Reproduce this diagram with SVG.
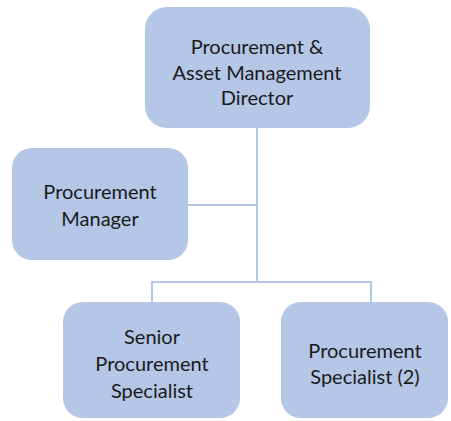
<svg xmlns="http://www.w3.org/2000/svg" width="451" height="421" viewBox="0 0 451 421">
<style>
.box{fill:#b4c7e7;}
.t{font-family:Lato,"Liberation Sans",sans-serif;font-size:20px;fill:#1a1a1a;text-anchor:middle;}
.c{stroke:#b4c7e7;stroke-width:2;fill:none;}
</style>
<rect width="451" height="421" fill="#ffffff"/>
<g id="connectors">
<path class="c" d="M257,128 V282"/>
<path class="c" d="M188,205 H257"/>
<path class="c" d="M152,302 V282 H371 V302"/>
</g>
<g id="director">
<rect class="box" x="145" y="7" width="225" height="121" rx="22"/>
<text class="t" x="257" y="54">Procurement &amp;</text>
<text class="t" x="257" y="80">Asset Management</text>
<text class="t" x="257" y="105">Director</text>
</g>
<g id="manager">
<rect class="box" x="12" y="148" width="176" height="112" rx="20"/>
<text class="t" x="100" y="199">Procurement</text>
<text class="t" x="100" y="226">Manager</text>
</g>
<g id="senior">
<rect class="box" x="63" y="302" width="177" height="116" rx="20"/>
<text class="t" x="152" y="344">Senior</text>
<text class="t" x="152" y="371">Procurement</text>
<text class="t" x="152" y="398">Specialist</text>
</g>
<g id="specialist">
<rect class="box" x="281" y="302" width="167" height="116" rx="20"/>
<text class="t" x="365" y="358">Procurement</text>
<text class="t" x="365" y="384">Specialist (2)</text>
</g>
</svg>
